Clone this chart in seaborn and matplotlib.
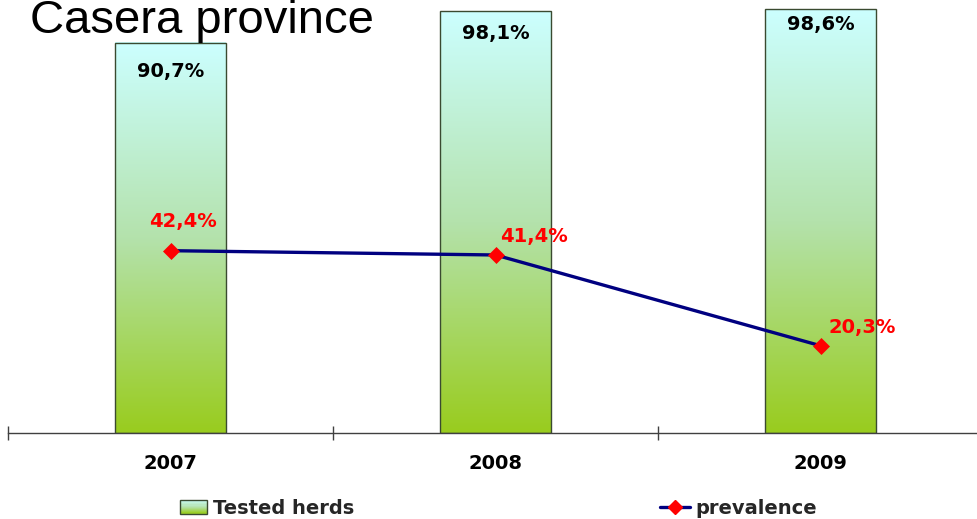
import numpy as np
import pandas as pd
import matplotlib
matplotlib.use('Agg')
import matplotlib.pyplot as plt
import seaborn as sns
from matplotlib.patches import Rectangle
from matplotlib.lines import Line2D
from matplotlib.legend_handler import HandlerBase
from matplotlib.colors import LinearSegmentedColormap

# ---- data ----
years = ['2007', '2008', '2009']
tested_herds = [90.7, 98.1, 98.6]
prevalence = [42.4, 41.4, 20.3]
title = 'Casera province'
legend_labels = ['Tested herds', 'prevalence']

# label offsets in pixels (style)
bar_label_offsets = [(0, -29), (0, -22), (0, -15)]
prev_label_offsets = [(12, 29), (38, 18), (42, 18)]

GRAD_STOPS = [(0.0, '#99cc1e'), (0.5, '#b4e2ac'), (1.0, '#ccffff')]

sns.set_theme(style='white')
plt.rcParams['font.family'] = ['DejaVu Sans']

W, H = 977, 519
fig = plt.figure(figsize=(W / 100, H / 100), dpi=100)
ax = fig.add_axes([8 / W, 86 / H, 975 / W, 430 / H])

df = pd.DataFrame({'year': years, 'tested': tested_herds, 'prev': prevalence})

sns.barplot(data=df, x='year', y='tested', width=0.34, color='#ccffff',
            edgecolor='#3a4a30', linewidth=1, ax=ax, errorbar=None,
            saturation=1)

cmap = LinearSegmentedColormap.from_list('g', GRAD_STOPS)
grad = np.linspace(0, 1, 256).reshape(-1, 1)
for p in list(ax.patches):
    x0 = p.get_x(); w = p.get_width(); h = p.get_height()
    ax.imshow(grad, extent=[x0, x0 + w, 0, h], origin='lower', cmap=cmap,
              aspect='auto', zorder=0.9, interpolation='bicubic')
    p.set_facecolor('none')
    p.set_zorder(1)

sns.pointplot(data=df, x='year', y='prev', color='#000080', markers='D',
              linestyles='-', errorbar=None, ax=ax)
pl = ax.lines[-1]
pl.set_linewidth(2.4)
pl.set_markersize(8)
pl.set_markerfacecolor('red')
pl.set_markeredgecolor('red')
pl.set_markeredgewidth(0.5)
pl.set_zorder(3)

# value labels
for i, v in enumerate(tested_herds):
    ax.annotate(f"{v:.1f}".replace('.', ',') + '%', xy=(i, v),
                xytext=bar_label_offsets[i], textcoords='offset pixels',
                ha='center', va='center', fontsize=14, fontweight='bold',
                color='black', zorder=4)
for i, v in enumerate(prevalence):
    ax.annotate(f"{v:.1f}".replace('.', ',') + '%', xy=(i, v),
                xytext=prev_label_offsets[i], textcoords='offset pixels',
                ha='center', va='center', fontsize=14, fontweight='bold',
                color='red', zorder=4)

ax.set_xlim(-0.5, 2.5)
ax.set_ylim(0, 100)
ax.set_xlabel('')
ax.set_ylabel('')
ax.set_yticks([])
sns.despine(ax=ax, left=True)
ax.spines['bottom'].set_color('#404040')
ax.spines['bottom'].set_linewidth(1)
ax.set_xticks(range(len(years)))
ax.set_xticklabels(years, fontsize=14, fontweight='bold', color='black')
ax.set_xticks([-0.5, 0.5, 1.5, 2.5], minor=True)
ax.tick_params(axis='x', which='major', length=0, pad=15, bottom=True)
ax.tick_params(axis='x', which='minor', length=9.5, direction='inout',
               width=1, color='#404040', bottom=True)
ax.grid(False)


class GradHandler(HandlerBase):
    def create_artists(self, legend, orig_handle, xdescent, ydescent,
                       width, height, fontsize, trans):
        arts = []
        n = 12
        for i in range(n):
            t = (i + 0.5) / n
            arts.append(Rectangle((-xdescent, -ydescent + height * i / n),
                                  width, height / n, facecolor=cmap(t),
                                  edgecolor='none', transform=trans))
        arts.append(Rectangle((-xdescent, -ydescent), width, height,
                              facecolor='none', edgecolor='#3a4a30', lw=1,
                              transform=trans))
        return arts


h1 = Rectangle((0, 0), 1, 1)
fig.legend([h1], [legend_labels[0]], handler_map={h1: GradHandler()},
           loc='center left', bbox_to_anchor=(180 / W, 1 - 508 / H),
           frameon=False, borderpad=0, borderaxespad=0, handlelength=1.4,
           handletextpad=0.3, prop={'weight': 'bold', 'size': 14})
h2 = Line2D([0], [0], color='#000080', lw=2.4, marker='D', markersize=7,
            markerfacecolor='red', markeredgecolor='red')
fig.legend([h2], [legend_labels[1]], loc='center left',
           bbox_to_anchor=(660 / W, 1 - 508 / H), frameon=False, borderpad=0,
           borderaxespad=0, handlelength=1.55, handletextpad=0.25,
           numpoints=1, prop={'weight': 'bold', 'size': 14})

fig.text(30 / W, 1 - 33 / H, title, fontsize=34, family=['Liberation Sans'],
         va='baseline', ha='left', color='black')

fig.savefig('out.png', dpi=100)
